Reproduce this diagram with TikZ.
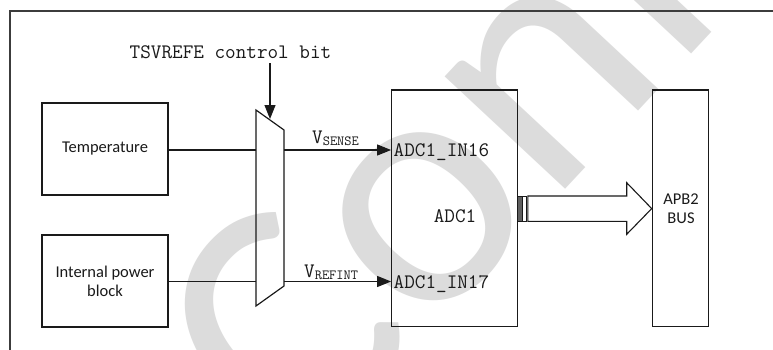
\documentclass[tikz,border=0pt]{standalone}
\usepackage{fontspec}
\setmainfont{Carlito}
\usetikzlibrary{arrows.meta}
\definecolor{ink}{HTML}{1A1A1A}
\definecolor{wm}{HTML}{DCDCDC}
\tikzset{
  box/.style={draw=ink, line width=1.2pt, inner sep=0pt},
  wire/.style={draw=ink, line width=1.1pt},
  sig/.style={wire, -{Triangle[length=14pt,width=11pt]}},
  mono/.style={font=\ttfamily\fontsize{20.6}{22}\selectfont, text=ink, inner sep=0pt},
  sans/.style={font=\fontsize{16.5}{19}\selectfont, text=ink, align=center, inner sep=0pt},
}
\begin{document}
\begin{tikzpicture}[x=1pt,y=-1pt]
\clip (0,0) rectangle (773,349);
\useasboundingbox (0,0) rectangle (773,349);
\fill[white] (0,0) rectangle (773,349);
% watermark
\node[anchor=base west, rotate=47, inner sep=0pt, text=wm,
      font=\fontsize{345}{345}\selectfont] (wmark) at (300,474) {Confidential};
% frame
\draw[draw=ink!85, line width=1.3pt] (790,11) -- (10,11) -- (10,360);
% boxes
\node[box, minimum width=126pt, minimum height=92pt] (temp) at (105,149) {};
\node[sans] (templ) at (temp.center) {Temperature};
\node[box, minimum width=126pt, minimum height=92pt] (ipb) at (105,281) {};
\node[sans] (ipbl) at (ipb.center) {Internal power\\block};
\node[box, minimum width=126pt, minimum height=236.7pt] (adc) at (454.7,208.4) {};
\node[box, minimum width=56pt, minimum height=236.7pt] (apb) at (680.3,208.4) {};
\node[sans] (apbl) at (681,209) {APB2\\BUS};
% mux
\draw[wire, line width=1.2pt] (256,110) -- (284,130) -- (284,286) -- (256,306) -- cycle;
\coordinate (muxinA) at (256,150);
\coordinate (muxinB) at (256,281.5);
\coordinate (muxoutA) at (284,150);
\coordinate (muxoutB) at (284,281.5);
\coordinate (muxctl) at (270,119);
\coordinate (adcA) at (adc.west |- 0,150);
\coordinate (adcB) at (adc.west |- 0,281.5);
% control bit
\node[mono, anchor=base] (ctl) at (230.5,58) {TSVREFE control bit};
\draw[sig] (270,63) -- (muxctl);
% wires
\draw[wire] (temp.east |- muxinA) -- (muxinA);
\draw[wire] (ipb.east |- muxinB) -- (muxinB);
\draw[sig] (muxoutA) -- (adcA);
\draw[sig] (muxoutB) -- (adcB);
\node[mono, anchor=base west] (vs) at (312,143.5) {V\fontsize{14}{16}\selectfont\raisebox{-1.5pt}{SENSE}};
\node[mono, anchor=base west] (vr) at (304,277) {V\fontsize{14}{16}\selectfont\raisebox{-2pt}{REFINT}};
% ADC labels
\node[mono, anchor=base west] (in16) at (393.5,156.7) {ADC1\_IN16};
\node[mono, anchor=base west] (in17) at (393.5,288.3) {ADC1\_IN17};
\node[mono, anchor=base] (adcl) at (455,222.7) {ADC1};
% bus arrow
\draw[draw=ink, line width=1pt, fill=ink!70] (517.7,196) rectangle (522.3,221.3);
\draw[draw=ink, line width=1pt, fill=white] (522.3,196) rectangle (526.7,221.3);
\draw[draw=ink, line width=1.1pt, fill=white] (527.9,196) -- (626.7,196) -- (626.7,182.7)
  -- (apb.west |- 0,208.6) -- (626.7,234.3) -- (626.7,221.3) -- (527.9,221.3) -- cycle;
\end{tikzpicture}
\end{document}
